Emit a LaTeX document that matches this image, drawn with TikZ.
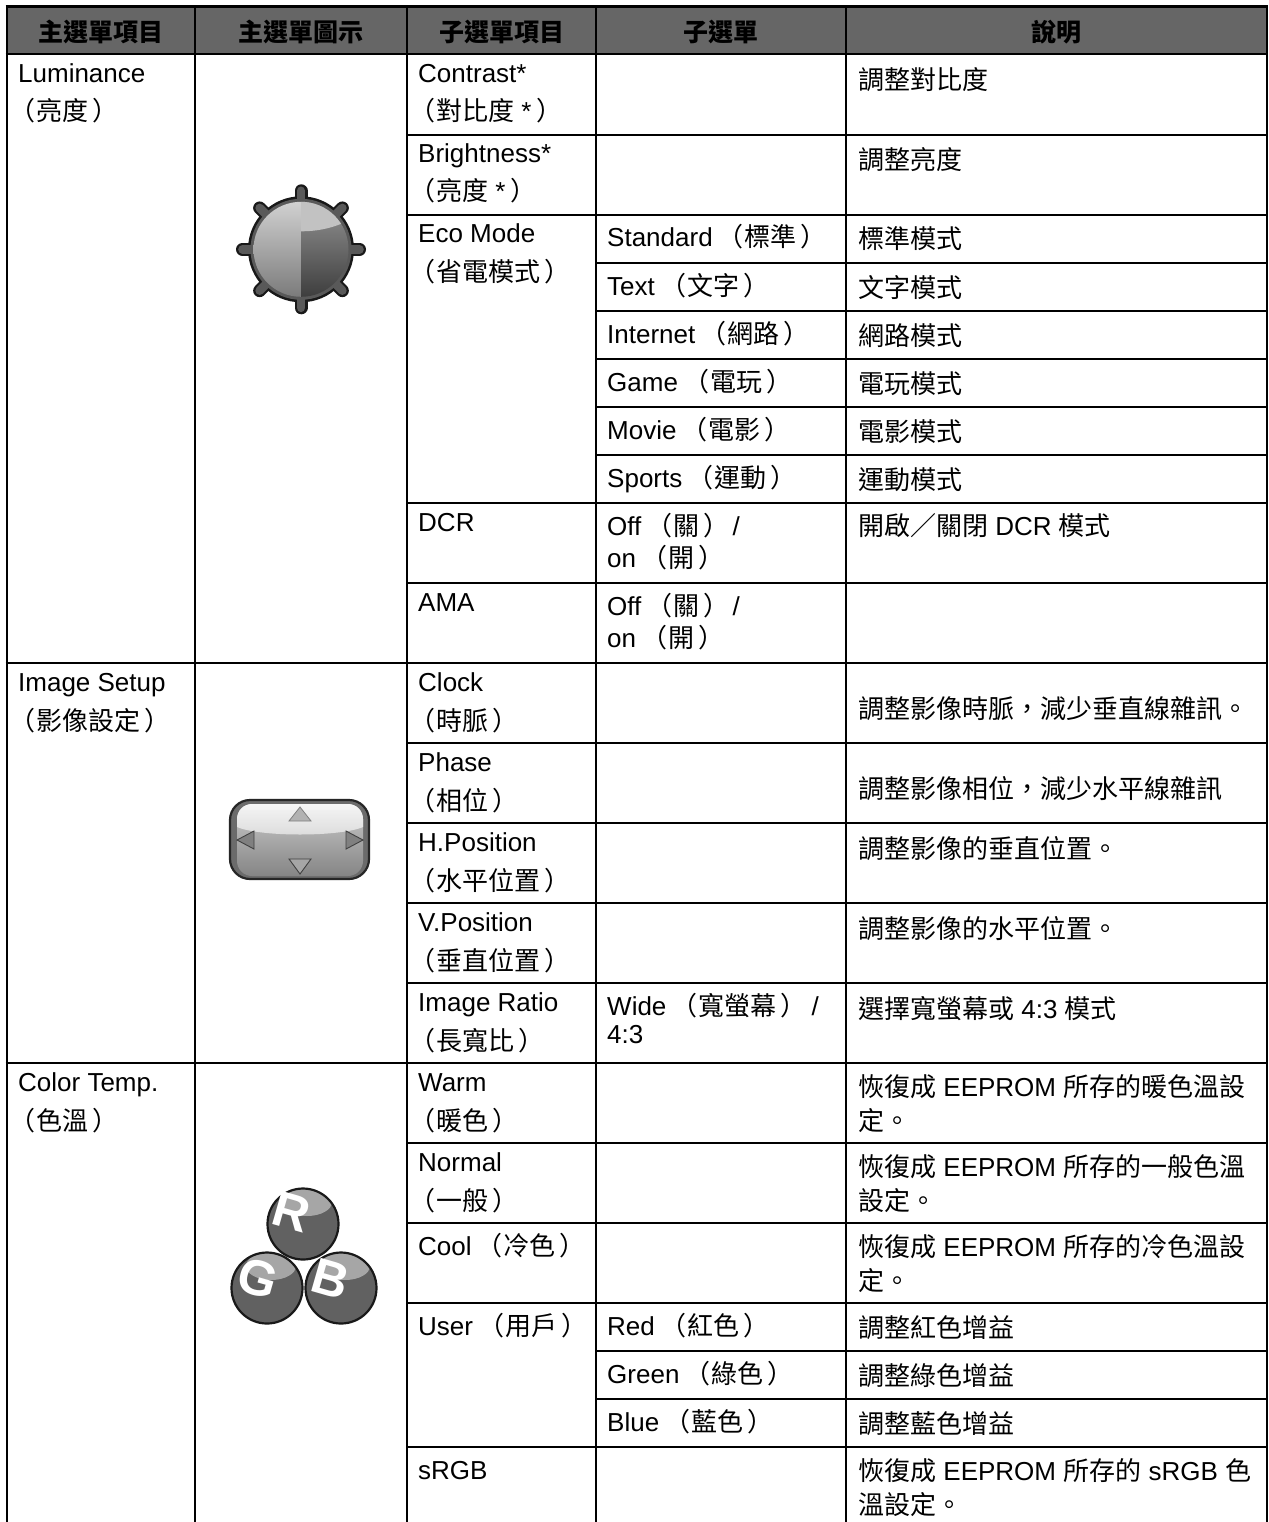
\documentclass[tikz,border=0pt]{standalone}
\usepackage{fontspec}
\setmainfont{Liberation Sans}
\newfontfamily\cjkfont{Noto Sans CJK TC}
\newcommand\zh[1]{{\cjkfont #1}}
\newcommand\lp{\kern-9pt\zh{（}\kern1pt}
\newcommand\rp{\kern4pt\zh{）}}
\newcommand\lpp{\kern7pt\lp}
\newcounter{txc}
\newcommand\tx[3]{\stepcounter{txc}\node[cell] (t\arabic{txc}) at (#1,#2) {#3};}
\newcommand\hd[3]{\stepcounter{txc}\node[headcell] (t\arabic{txc}) at (#1,#2) {#3};}
\tikzset{
  cell/.style={anchor=base west,inner sep=0pt,font=\fontsize{26}{30}\selectfont,text=black},
  headcell/.style={anchor=base,inner sep=0pt,font=\fontsize{25}{30}\selectfont\bfseries,text=black},
  rule/.style={line width=2.6pt,draw=black},
  letter/.style={inner sep=0pt,text=white,font=\fontsize{50}{50}\selectfont\bfseries,rotate=-16},
}
\begin{document}
\begin{tikzpicture}[x=1pt,y=-1pt]
\useasboundingbox (0,0) rectangle (1268,1522);
\fill[white] (0,0) rectangle (1268,1522);
% header band
\fill[fill=black!60] (7,6.5) rectangle (1267,54);
% rules
\foreach \yy in {6.5,54,663,1063} \draw[rule] (5.7,\yy) -- (1268,\yy);
\foreach \yy in {135,215,503,583,743,823,903,983,1143,1223,1303,1447} \draw[rule] (407,\yy) -- (1268,\yy);
\foreach \yy in {263,311,359,407,455,1351,1399} \draw[rule] (596,\yy) -- (1268,\yy);
\foreach \xx in {7,195,407,596,846,1267} \draw[rule] (\xx,5.2) -- (\xx,1522);
% header
\hd{101}{42}{\zh{主選單項目}}
\hd{301}{42}{\zh{主選單圖示}}
\hd{502}{42}{\zh{子選單項目}}
\hd{721}{42}{\zh{子選單}}
\hd{1056}{42}{\zh{說明}}
% col 1
\tx{18}{83}{Luminance}
\tx{18}{121}{\lp\zh{亮度}\rp}
\tx{18}{691}{Image Setup}
\tx{18}{730}{\lp\zh{影像設定}\rp}
\tx{18}{1091}{Color Temp.}
\tx{18}{1130}{\lp\zh{色溫}\rp}
% col 3
\tx{418}{83}{Contrast*}
\tx{418}{121}{\lp\zh{對比度} *\kern1pt\rp}
\tx{418}{163}{Brightness*}
\tx{418}{201}{\lp\zh{亮度} *\kern1pt\rp}
\tx{418}{243}{Eco Mode}
\tx{418}{281}{\lp\zh{省電模式}\rp}
\tx{418}{531}{DCR}
\tx{418}{611}{AMA}
\tx{418}{691}{Clock}
\tx{418}{730}{\lp\zh{時脈}\rp}
\tx{418}{771}{Phase}
\tx{418}{810}{\lp\zh{相位}\rp}
\tx{418}{851}{H.Position}
\tx{418}{890}{\lp\zh{水平位置}\rp}
\tx{418}{931}{V.Position}
\tx{418}{970}{\lp\zh{垂直位置}\rp}
\tx{418}{1011}{Image Ratio}
\tx{418}{1050}{\lp\zh{長寬比}\rp}
\tx{418}{1091}{Warm}
\tx{418}{1130}{\lp\zh{暖色}\rp}
\tx{418}{1171}{Normal}
\tx{418}{1210}{\lp\zh{一般}\rp}
\tx{418}{1255}{Cool \lpp\zh{冷色}\rp}
\tx{418}{1335}{User \lpp\zh{用戶}\rp}
\tx{418}{1479}{sRGB}
% col 4
\tx{607}{247}{Standard \lpp\zh{標準}\rp}
\tx{607}{295}{Text \lpp\zh{文字}\rp}
\tx{607}{343}{Internet \lpp\zh{網路}\rp}
\tx{607}{391}{Game \lpp\zh{電玩}\rp}
\tx{607}{439}{Movie \lpp\zh{電影}\rp}
\tx{607}{487}{Sports \lpp\zh{運動}\rp}
\tx{607}{535}{Off \lpp\zh{關}\rp\kern3pt/}
\tx{607}{567}{on \lpp\zh{開}\rp}
\tx{607}{615}{Off \lpp\zh{關}\rp\kern3pt/}
\tx{607}{647}{on \lpp\zh{開}\rp}
\tx{607}{1015}{Wide \lpp\zh{寬螢幕}\rp\kern5pt/}
\tx{607}{1043}{4:3}
\tx{607}{1335}{Red \lpp\zh{紅色}\rp}
\tx{607}{1383}{Green \lpp\zh{綠色}\rp}
\tx{607}{1431}{Blue \lpp\zh{藍色}\rp}
% col 5
\tx{858}{90}{\zh{調整對比度}}
\tx{858}{170}{\zh{調整亮度}}
\tx{858}{248}{\zh{標準模式}}
\tx{858}{297}{\zh{文字模式}}
\tx{858}{345}{\zh{網路模式}}
\tx{858}{393}{\zh{電玩模式}}
\tx{858}{441}{\zh{電影模式}}
\tx{858}{489}{\zh{運動模式}}
\tx{858}{535}{\zh{開啟／關閉} DCR \zh{模式}}
\tx{858}{718}{\zh{調整影像時脈，減少垂直線雜訊。}}
\tx{858}{798}{\zh{調整影像相位，減少水平線雜訊}}
\tx{858}{858}{\zh{調整影像的垂直位置。}}
\tx{858}{938}{\zh{調整影像的水平位置。}}
\tx{858}{1018}{\zh{選擇寬螢幕或} 4:3 \zh{模式}}
\tx{858}{1096}{\zh{恢復成} EEPROM \zh{所存的暖色溫設}}
\tx{858}{1130}{\zh{定。}}
\tx{858}{1176}{\zh{恢復成} EEPROM \zh{所存的一般色溫}}
\tx{858}{1210}{\zh{設定。}}
\tx{858}{1256}{\zh{恢復成} EEPROM \zh{所存的冷色溫設}}
\tx{858}{1290}{\zh{定。}}
\tx{858}{1337}{\zh{調整紅色增益}}
\tx{858}{1385}{\zh{調整綠色增益}}
\tx{858}{1433}{\zh{調整藍色增益}}
\tx{858}{1480}{\zh{恢復成} EEPROM \zh{所存的} sRGB \zh{色}}
\tx{858}{1514}{\zh{溫設定。}}
% knob icon
\begin{scope}[shift={(301,249.3)}]
  \foreach \a in {0,45,...,315} \draw[line width=13pt,line cap=round,draw=black!90] (0,0) -- (\a:58.5);
  \fill[black!90] (0,0) circle[radius=53pt];
  \fill[black!65] (0,0) circle[radius=50.5pt];
  \foreach \a in {0,45,...,315} \draw[line width=8.6pt,line cap=round,draw=black!65] (\a:45) -- (\a:58.5);
  \begin{scope}
    \clip (0,0) circle[radius=47.5pt];
    \shade[top color=black!18,bottom color=black!52] (-48,-48) rectangle (0,48);
    \shade[top color=black!42,bottom color=black!76] (0,-48) rectangle (48,48);
    \fill[black!24] (0,-48) -- (48,-48) -- (48,-29) .. controls (32,-21) and (16,-18) .. (0,-18) -- cycle;
  \end{scope}
\end{scope}
% arrow-pad icon
\draw[line width=2.2pt,draw=black!85,fill=black!58] (230,800) [rounded corners=20pt] rectangle (369,879);
\begin{scope}
  \clip[rounded corners=15pt] (237,804) rectangle (363,876);
  \shade[top color=black!20,bottom color=black!48] (237,804) rectangle (363,876);
  \shade[top color=black!4,bottom color=black!14] (237,804) -- (363,804) -- (363,827) .. controls (340,837) and (260,837) .. (237,827) -- cycle;
\end{scope}
\draw[line width=0.8pt,draw=black!50,fill=black!30] (300,807) -- (289,821) -- (311,821) -- cycle;
\draw[line width=0.9pt,draw=black!75,fill=black!35] (300,874) -- (289,859) -- (311,859) -- cycle;
\draw[line width=0.9pt,draw=black!75,fill=black!50] (237,840) -- (254,831) -- (254,849) -- cycle;
\draw[line width=0.9pt,draw=black!75,fill=black!50] (363,840) -- (346,831) -- (346,849) -- cycle;
% RGB balls
\foreach \cx/\cy/\lx/\ly/\lt in {303/1224/292/1212/R, 267/1288/258/1278/G, 341/1288/331/1279/B} {
  \begin{scope}
    \clip (\cx,\cy) circle[radius=35.5pt];
    \fill[black!62] (\cx,\cy) circle[radius=36pt];
    \fill[black!35] (\cx+4,\cy-22) ellipse[x radius=25pt,y radius=14pt];
  \end{scope}
  \draw[line width=2.2pt,draw=black!90] (\cx,\cy) circle[radius=35.5pt];
  \node[letter] (ball\lt) at (\lx,\ly) {\lt};
}
\end{tikzpicture}
\end{document}
